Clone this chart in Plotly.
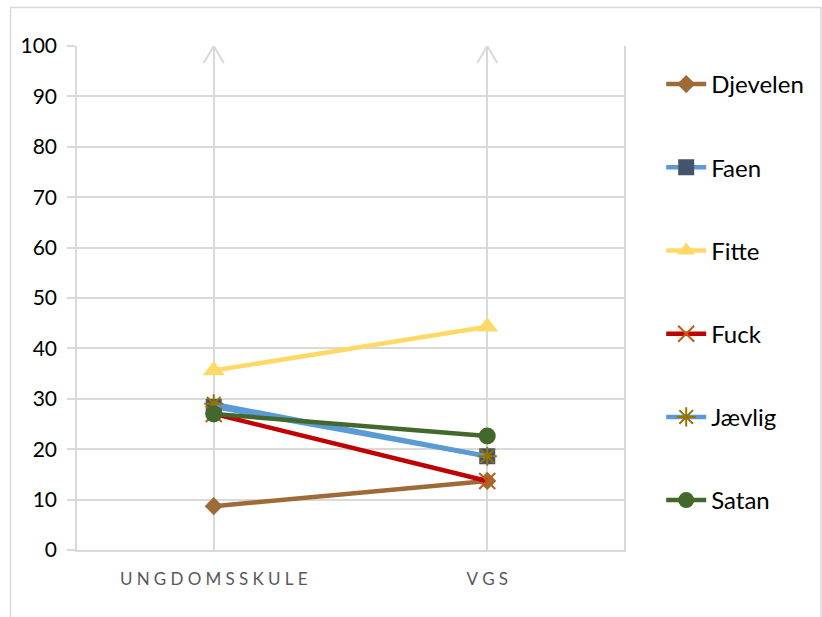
import plotly.graph_objects as go

categories = ["UNGDOMSSKULE", "VGS"]
tick_labels = ["\u2005".join("UNGDOMSSKULE"), "\u2005".join("VGS")]
series_names = ["Djevelen", "Faen", "Fitte", "Fuck", "Jævlig", "Satan"]
djevelen = [8.7, 13.7]
faen = [28.4, 18.6]
fitte = [35.6, 44.3]
fuck = [27.0, 13.7]
jaevlig = [29.0, 18.6]
satan = [27.0, 22.6]
y_ticks = [0, 10, 20, 30, 40, 50, 60, 70, 80, 90, 100]

values = [djevelen, faen, fitte, fuck, jaevlig, satan]
styles = [
    dict(line="#9E6A37", marker=dict(symbol="diamond", size=14, color="#9E6A37")),
    dict(line="#5B9BD5", marker=dict(symbol="square", size=16, color="#44546A")),
    dict(line="#FFD966", marker=dict(symbol="triangle-up", size=19, color="#FFD966")),
    dict(line="#C00000", marker=dict(symbol="x-thin-open", size=16, color="#C55A11",
                                      line=dict(width=2, color="#C55A11"))),
    dict(line="#5B9BD5", marker=dict(symbol="asterisk-open", size=16, color="#997300",
                                      line=dict(width=2, color="#997300"))),
    dict(line="#43682B", marker=dict(symbol="circle", size=17, color="#43682B")),
]

W, H = 822, 617
L, R, T, B = 77, 198, 46, 67
pw, ph = W - L - R, H - T - B
grid = "#D9D9D9"

fig = go.Figure()
xs = list(range(len(categories)))
for name, vals, st in zip(series_names, values, styles):
    fig.add_trace(go.Scatter(
        x=xs, y=vals, name=name, mode="lines+markers",
        line=dict(color=st["line"], width=4.5),
        marker=st["marker"], legendgroup=name,
    ))

shapes = []
for i in xs:
    shapes.append(dict(type="path", xref="x", yref="y", xsizemode="pixel", ysizemode="pixel",
                       xanchor=i, yanchor=max(y_ticks), path="M-10,-17 L0,0 L10,-17",
                       line=dict(color=grid, width=2), layer="below"))
# outer chart border
shapes.append(dict(type="rect", xref="paper", yref="paper",
                   x0=(10.5 - L) / pw, x1=(821 - L) / pw,
                   y0=-(H + 10 - T - ph) / ph - 0.05, y1=(T + ph - 7.5) / ph,
                   line=dict(color=grid, width=1.5), fillcolor="rgba(0,0,0,0)", layer="below"))

fig.update_layout(
    width=W, height=H, margin=dict(l=L, r=R, t=T, b=B),
    paper_bgcolor="white", plot_bgcolor="white",
    font=dict(family="Lato, sans-serif", color="#000000"),
    showlegend=True,
    legend=dict(x=1.068, xanchor="left", y=(ph - 16) / ph, yanchor="top",
                font=dict(size=24, color="#000000"), tracegroupgap=49,
                bgcolor="rgba(0,0,0,0)", itemwidth=40),
    shapes=shapes,
    xaxis=dict(range=[-0.5, 1.5], tickmode="array", tickvals=xs, ticktext=tick_labels,
               showgrid=True, gridcolor=grid, gridwidth=1.5, zeroline=False,
               showline=True, linecolor=grid, linewidth=1.5, ticks="",
               tickfont=dict(size=17, color="#595959"), ticklabelstandoff=13,
               fixedrange=True),
    yaxis=dict(range=[0, 100], tickmode="array", tickvals=y_ticks,
               showgrid=True, gridcolor=grid, gridwidth=1.5, zeroline=False,
               showline=True, linecolor=grid, linewidth=1.5, mirror=True,
               ticks="outside", ticklen=8, tickcolor=grid, tickwidth=1.5,
               tickfont=dict(size=21, color="#000000"), ticklabelstandoff=6,
               fixedrange=True),
)

fig.write_html("out.html")
